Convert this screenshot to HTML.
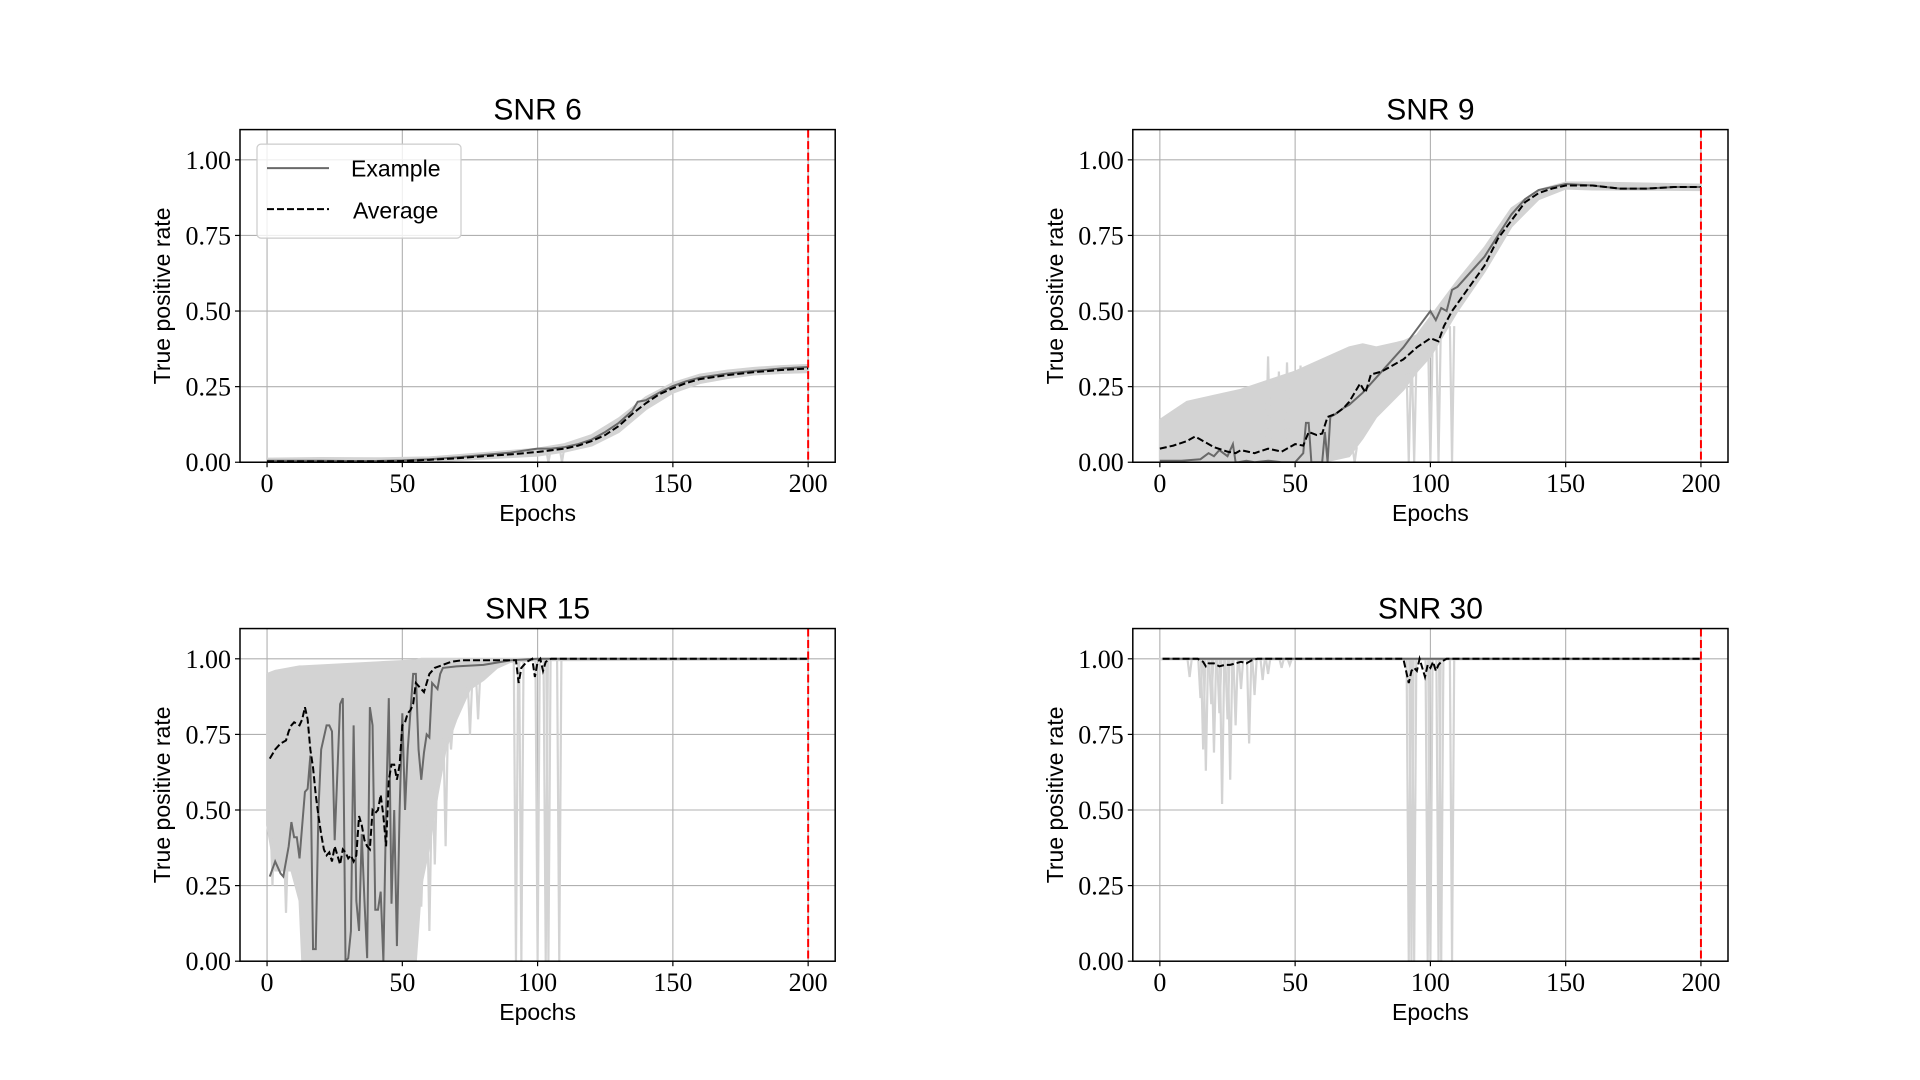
<!DOCTYPE html>
<html><head><meta charset="utf-8"><style>
html,body{margin:0;padding:0;background:#fff;}
svg{display:block;}
.tick{font-family:"Liberation Serif",serif;font-size:26px;fill:#000;}
.lab{font-family:"Liberation Sans",sans-serif;font-size:23px;fill:#000;}
.ttl{font-family:"Liberation Sans",sans-serif;font-size:30px;fill:#000;}
</style></head><body>
<svg id="fig" width="1920" height="1080" viewBox="0 0 1920 1080" xmlns="http://www.w3.org/2000/svg"></svg>
<script>
// ---------- shared ticks ----------
const xTicks = [0, 50, 100, 150, 200];
const xTickLabels = ["0", "50", "100", "150", "200"];
const yTicks = [0, 0.25, 0.5, 0.75, 1.0];
const yTickLabels = ["0.00", "0.25", "0.50", "0.75", "1.00"];
const panelTitles = ["SNR 6", "SNR 9", "SNR 15", "SNR 30"];
const markerEpoch = 200;

// ---------- SNR 6 ----------
const snr6AvgEpochs = [0,10,20,30,40,50,60,70,80,90,100,110,115,120,125,130,135,140,145,150,155,160,170,180,190,200];
const snr6AvgValues = [0.003,0.003,0.003,0.003,0.003,0.004,0.008,0.013,0.02,0.026,0.034,0.045,0.055,0.07,0.09,0.12,0.16,0.195,0.225,0.245,0.262,0.275,0.288,0.298,0.305,0.31];
const snr6ExEpochs = [0,10,20,30,40,50,60,70,80,90,100,105,110,115,120,125,130,135,137,140,145,150,155,160,170,180,190,200];
const snr6ExValues = [0.005,0.005,0.005,0.004,0.004,0.006,0.01,0.016,0.024,0.032,0.045,0.045,0.05,0.06,0.075,0.1,0.13,0.17,0.2,0.205,0.23,0.252,0.268,0.28,0.293,0.302,0.31,0.315];
const snr6BandEpochs = [0,20,40,60,80,100,110,120,130,140,150,160,170,180,190,200];
const snr6BandUpper = [0.012,0.014,0.013,0.016,0.03,0.045,0.06,0.09,0.145,0.215,0.262,0.29,0.303,0.312,0.318,0.322];
const snr6BandLower = [0,0,0,0.002,0.012,0.022,0.035,0.055,0.1,0.175,0.23,0.262,0.278,0.29,0.295,0.298];
const snr6SpikeEpochs = [104,109];
const snr6SpikeTops = [0.04,0.045];
const snr6SpikeMins = [0.0,0.0];

// ---------- SNR 9 ----------
const snr9AvgEpochs = [0,5,10,13,15,20,25,28,30,35,40,45,48,50,53,55,58,60,62,65,68,70,74,76,78,82,86,90,95,100,103,105,108,112,116,120,125,130,135,140,145,150,160,170,180,190,200];
const snr9AvgValues = [0.045,0.055,0.07,0.085,0.075,0.05,0.035,0.03,0.04,0.03,0.045,0.035,0.05,0.06,0.055,0.1,0.09,0.095,0.15,0.16,0.18,0.2,0.26,0.23,0.29,0.3,0.32,0.34,0.38,0.41,0.4,0.45,0.5,0.55,0.6,0.65,0.74,0.8,0.86,0.89,0.905,0.915,0.915,0.905,0.905,0.91,0.91];
const snr9ExEpochs = [0,8,15,18,20,22,25,27,28,29,32,35,40,45,50,53,54,55,56,57,59,60,61,62,63,65,68,70,75,80,85,90,95,100,102,104,106,108,110,112,115,120,125,130,135,140,145,150,160,170,180,190,200];
const snr9ExValues = [0.005,0.005,0.01,0.03,0.02,0.04,0.02,0.06,0.0,0.0,0.005,0.0,0.005,0.0,0.0,0.03,0.13,0.13,0.0,0.0,0.0,0.0,0.1,0.0,0.15,0.16,0.18,0.19,0.23,0.28,0.33,0.38,0.44,0.5,0.47,0.51,0.5,0.57,0.58,0.6,0.63,0.68,0.75,0.82,0.87,0.9,0.91,0.92,0.915,0.905,0.905,0.91,0.91];
const snr9BandEpochs = [0,5,10,20,30,40,50,60,70,75,80,90,95,100,110,120,130,140,150,160,200];
const snr9BandUpper = [0.14,0.17,0.2,0.22,0.24,0.27,0.3,0.34,0.38,0.39,0.38,0.4,0.42,0.48,0.6,0.71,0.84,0.9,0.925,0.925,0.918];
const snr9BandLower = [0,0,0,0,0,0,0,0,0.02,0.08,0.15,0.24,0.3,0.35,0.5,0.63,0.78,0.87,0.905,0.902,0.9];
const snr9SpikeEpochs = [40,44,47,52,72,92,94,100,103,108];
const snr9SpikeTops = [0.05,0.05,0.05,0.05,0.05,0.3,0.32,0.38,0.42,0.45];
const snr9SpikeMins = [0.35,0.3,0.33,0.32,0.0,0.0,0.0,0.0,0.0,0.0];

// ---------- SNR 15 ----------
const snr15AvgEpochs = [1,3,5,7,8,9,10,12,13,14,15,16,17,18,19,20,21,22,23,24,25,26,27,28,29,30,31,32,33,34,35,36,37,38,39,40,41,42,43,44,45,46,47,48,49,50,51,52,53,54,55,57,58,59,60,62,65,68,72,80,92,93,94,95,96,98,99,100,101,102,103,105,200];
const snr15AvgValues = [0.67,0.7,0.72,0.73,0.76,0.78,0.79,0.78,0.8,0.84,0.8,0.7,0.64,0.55,0.48,0.42,0.37,0.35,0.36,0.33,0.38,0.35,0.32,0.37,0.36,0.34,0.35,0.33,0.35,0.48,0.45,0.4,0.38,0.37,0.5,0.49,0.5,0.55,0.48,0.38,0.6,0.65,0.65,0.6,0.65,0.78,0.79,0.82,0.83,0.85,0.92,0.9,0.89,0.92,0.95,0.97,0.98,0.99,0.995,0.995,0.995,0.92,0.97,0.98,0.99,1.0,0.94,0.99,1.0,0.96,0.99,1.0,1.0];
const snr15ExEpochs = [1,3,5,6,8,9,10,11,12,14,15,16,17,18,19,20,22,23,24,25,27,28,29,30,31,32,33,34,35,36,37,38,39,40,41,42,43,44,45,46,47,48,49,50,51,52,54,55,56,57,58,59,60,61,63,64,65,70,80,90,100,200];
const snr15ExValues = [0.28,0.33,0.29,0.28,0.38,0.46,0.41,0.41,0.34,0.56,0.57,0.68,0.04,0.04,0.5,0.7,0.78,0.78,0.76,0.4,0.85,0.87,0.0,0.01,0.1,0.78,0.2,0.1,0.42,0.2,0.01,0.84,0.78,0.17,0.17,0.23,0.0,0.5,0.87,0.19,0.5,0.05,0.5,0.82,0.5,0.7,0.95,0.95,0.7,0.6,0.69,0.75,0.74,0.92,0.9,0.95,0.97,0.975,0.98,0.995,1.0,1.0];
const snr15BandEpochs = [0,3,6,9,12,13,55,57,60,63,66,70,75,80,85,90,100,200];
const snr15BandUpper = [0.95,0.96,0.965,0.97,0.975,0.975,0.995,1.0,1.0,1.0,1.0,1.0,1.0,1.0,1.0,1.0,1.0,1.0];
const snr15BandLower = [0.45,0.3,0.3,0.3,0.2,0.0,0.0,0.25,0.38,0.55,0.7,0.8,0.9,0.93,0.97,0.99,0.995,0.998];
const snr15SpikeEpochs = [2,7,57,60,62,66,68,75,78,92,94,100,103,104,108];
const snr15SpikeTops = [0.5,0.4,0.4,0.5,0.6,0.75,0.8,0.92,0.95,1.0,1.0,1.0,1.0,1.0,1.0];
const snr15SpikeMins = [0.25,0.16,0.18,0.1,0.32,0.38,0.7,0.75,0.8,0.0,0.0,0.0,0.0,0.0,0.0];

// ---------- SNR 30 ----------
const snr30AvgEpochs = [1,14,16,17,18,20,22,24,26,28,30,32,34,36,40,90,92,93,94,95,96,98,99,100,101,102,103,104,106,200];
const snr30AvgValues = [1.0,1.0,0.99,0.975,0.985,0.985,0.975,0.98,0.98,0.985,0.99,0.985,0.995,1.0,1.0,1.0,0.92,0.96,0.97,0.96,1.0,0.94,0.98,0.97,0.99,0.96,0.98,0.99,1.0,1.0];
const snr30ExEpochs = [1,200];
const snr30ExValues = [1.0,1.0];
const snr30BandEpochs = [0,10,200];
const snr30BandUpper = [1.0,1.0,1.0];
const snr30BandLower = [0.998,0.998,0.998];
const snr30SpikeEpochs = [11,15,16,17,19,20,22,23,25,26,28,30,33,35,38,40,45,48,92,93,94,99,100,103,104,108];
const snr30SpikeTops = [1,1,1,1,1,1,1,1,1,1,1,1,1,1,1,1,1,1,1,1,1,1,1,1,1,1];
const snr30SpikeMins = [0.94,0.87,0.7,0.63,0.85,0.69,0.82,0.52,0.8,0.6,0.78,0.9,0.72,0.88,0.93,0.95,0.97,0.98,0.0,0.0,0.0,0.0,0.0,0.0,0.0,0.0];

const panels = [
  {avgE:snr6AvgEpochs,avgV:snr6AvgValues,exE:snr6ExEpochs,exV:snr6ExValues,bE:snr6BandEpochs,bU:snr6BandUpper,bL:snr6BandLower,sE:snr6SpikeEpochs,sT:snr6SpikeTops,sM:snr6SpikeMins},
  {avgE:snr9AvgEpochs,avgV:snr9AvgValues,exE:snr9ExEpochs,exV:snr9ExValues,bE:snr9BandEpochs,bU:snr9BandUpper,bL:snr9BandLower,sE:snr9SpikeEpochs,sT:snr9SpikeTops,sM:snr9SpikeMins},
  {avgE:snr15AvgEpochs,avgV:snr15AvgValues,exE:snr15ExEpochs,exV:snr15ExValues,bE:snr15BandEpochs,bU:snr15BandUpper,bL:snr15BandLower,sE:snr15SpikeEpochs,sT:snr15SpikeTops,sM:snr15SpikeMins},
  {avgE:snr30AvgEpochs,avgV:snr30AvgValues,exE:snr30ExEpochs,exV:snr30ExValues,bE:snr30BandEpochs,bU:snr30BandUpper,bL:snr30BandLower,sE:snr30SpikeEpochs,sT:snr30SpikeTops,sM:snr30SpikeMins}
];

const NS = "http://www.w3.org/2000/svg";
const fig = document.getElementById("fig");
function mk(tag, attrs, parent) {
  const e = document.createElementNS(NS, tag);
  for (const k in attrs) e.setAttribute(k, attrs[k]);
  (parent || fig).appendChild(e);
  return e;
}
const AXW = 595.2, AXH = 332.64;
const lefts = [240, 1132.8], tops = [129.6, 628.56];

panels.forEach((p, i) => {
  const L = lefts[i % 2], T = tops[Math.floor(i / 2)], B = T + AXH, R = L + AXW;
  const sx = e => L + (e + 10) / 220 * AXW;
  const sy = v => B - v / 1.1 * AXH;
  const g = mk("g", {});
  
  
  const clipId = "clip" + i;
  const cp = mk("clipPath", {id: clipId}, g);
  mk("rect", {x: L, y: T, width: AXW, height: AXH}, cp);

  xTicks.forEach(t => {
    const l = mk("line", {x1: sx(t), x2: sx(t), y1: T, y2: B, stroke: "#b0b0b0", "stroke-width": 1.1}, g);
    
    
  });
  yTicks.forEach(t => {
    const l = mk("line", {x1: L, x2: R, y1: sy(t), y2: sy(t), stroke: "#b0b0b0", "stroke-width": 1.1}, g);
    
    
  });

  const plot = mk("g", {"clip-path": "url(#" + clipId + ")"}, g);
  let d = "";
  p.bE.forEach((e, k) => { d += (k ? "L" : "M") + sx(e) + "," + sy(p.bU[k]); });
  for (let k = p.bE.length - 1; k >= 0; k--) d += "L" + sx(p.bE[k]) + "," + sy(p.bL[k]);
  const band = mk("path", {d: d + "Z", fill: "#d3d3d3", stroke: "#d3d3d3", "stroke-width": 2}, plot);
  
  
  p.sE.forEach((e, k) => {
    const sp = mk("polyline", {points: sx(e - 0.8) + "," + sy(p.sT[k]) + " " + sx(e) + "," + sy(p.sM[k]) + " " + sx(e + 0.8) + "," + sy(p.sT[k]), fill: "none", stroke: "#d3d3d3", "stroke-width": 2.2}, plot);
    
    
  });
  const ex = mk("polyline", {points: p.exE.map((e, k) => sx(e) + "," + sy(p.exV[k])).join(" "), fill: "none", stroke: "#696969", "stroke-width": 2}, plot);
  
  
  const av = mk("polyline", {points: p.avgE.map((e, k) => sx(e) + "," + sy(p.avgV[k])).join(" "), fill: "none", stroke: "#000", "stroke-width": 2, "stroke-dasharray": "7,3"}, plot);
  
  
  const rl = mk("line", {x1: sx(markerEpoch), x2: sx(markerEpoch), y1: T, y2: B, stroke: "#ff0000", "stroke-width": 2, "stroke-dasharray": "8,3.5"}, plot);
  
  

  const fr = mk("rect", {x: L, y: T, width: AXW, height: AXH, fill: "none", stroke: "#000", "stroke-width": 1.5}, g);
  
  

  xTicks.forEach((t, k) => {
    mk("line", {x1: sx(t), x2: sx(t), y1: B, y2: B + 5, stroke: "#000", "stroke-width": 1.2}, g);
    const tx = mk("text", {x: sx(t), y: B + 30, "text-anchor": "middle", class: "tick"}, g);
    tx.textContent = xTickLabels[k];
    
    
  });
  yTicks.forEach((t, k) => {
    mk("line", {x1: L - 5, x2: L, y1: sy(t), y2: sy(t), stroke: "#000", "stroke-width": 1.2}, g);
    const ty = mk("text", {x: L - 9, y: sy(t) + 9, "text-anchor": "end", class: "tick"}, g);
    ty.textContent = yTickLabels[k];
    
    
  });

  const tt = mk("text", {x: L + AXW / 2, y: T - 10, "text-anchor": "middle", class: "ttl"}, g);
  tt.textContent = panelTitles[i];
  
  
  const xl = mk("text", {x: L + AXW / 2, y: B + 59, "text-anchor": "middle", class: "lab"}, g);
  xl.textContent = "Epochs";
  
  
  const yx = L - 70, yy = T + AXH / 2;
  const yl = mk("text", {x: yx, y: yy, "text-anchor": "middle", class: "lab", transform: "rotate(-90 " + yx + " " + yy + ")"}, g);
  yl.textContent = "True positive rate";
  
  

  if (i === 0) {
    const lg = mk("g", {}, g);
    
    
    mk("rect", {x: L + 17, y: T + 14.5, width: 204, height: 94, rx: 4, fill: "#fff", "fill-opacity": 0.8, stroke: "#cccccc", "stroke-width": 1.2}, lg);
    const le1 = mk("line", {x1: L + 27, x2: L + 89, y1: T + 38.5, y2: T + 38.5, stroke: "#696969", "stroke-width": 2}, lg);
    
    
    const t1 = mk("text", {x: L + 111, y: T + 47, class: "lab"}, lg);
    t1.textContent = "Example";
    
    
    const le2 = mk("line", {x1: L + 27, x2: L + 89, y1: T + 79.5, y2: T + 79.5, stroke: "#000", "stroke-width": 2, "stroke-dasharray": "7,3"}, lg);
    
    
    const t2 = mk("text", {x: L + 113, y: T + 89, class: "lab"}, lg);
    t2.textContent = "Average";
    
    
  }
});
</script>
</body></html>
